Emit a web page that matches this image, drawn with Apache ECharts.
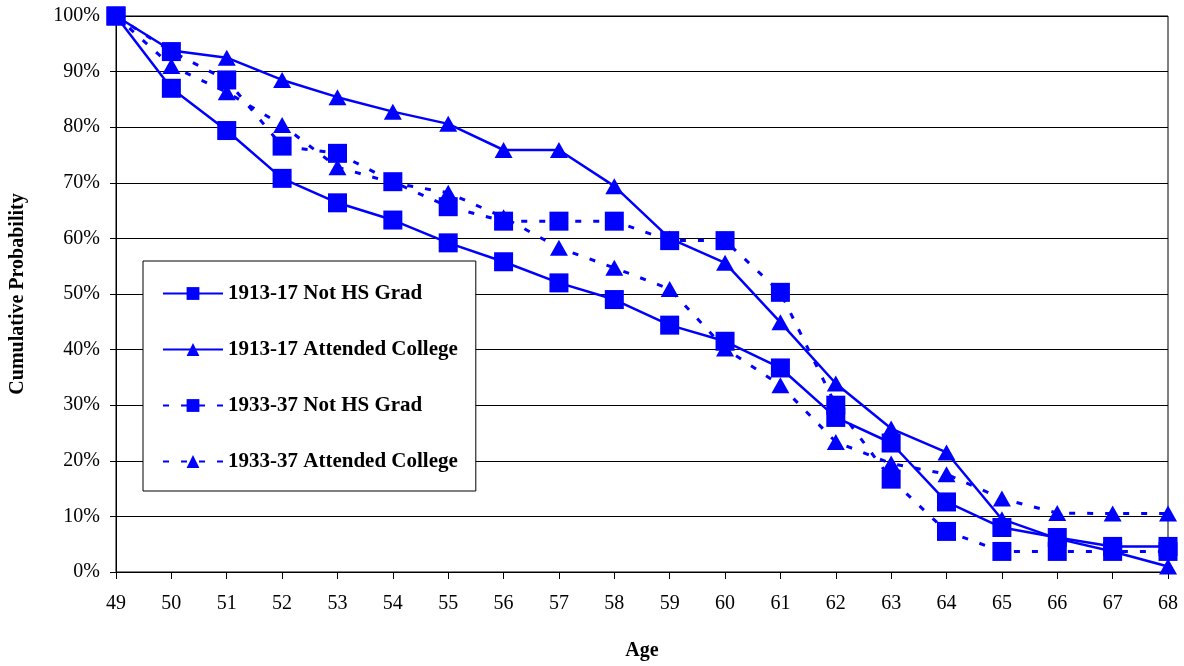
<!DOCTYPE html>
<html>
<head>
<meta charset="utf-8">
<title>Cumulative Probability by Age</title>
<script src="https://cdn.jsdelivr.net/npm/echarts@6/dist/echarts.min.js"></script>
<style>
  html, body { margin: 0; padding: 0; background: #fff; }
  #main { width: 1184px; height: 666px; }
</style>
</head>
<body>
<div id="main"></div>
<script>
// ages on the x axis
var ages = ['49', '50', '51', '52', '53', '54', '55', '56', '57', '58',
            '59', '60', '61', '62', '63', '64', '65', '66', '67', '68'];

// cumulative probability, in percent
var notHS1913 = [100, 87.0, 79.4, 70.8, 66.4, 63.3, 59.2, 55.8, 52.0, 49.0,
                 44.4, 41.5, 36.7, 27.8, 23.2, 12.6, 8.0, 6.2, 4.6, 4.6];
var college1913 = [100, 93.8, 92.5, 88.5, 85.4, 82.8, 80.6, 75.9, 75.9, 69.4,
                   60.0, 55.6, 44.9, 33.9, 25.8, 21.5, 9.5, 6.0, 3.7, 1.0];
var notHS1933 = [100, 93.6, 88.5, 76.6, 75.3, 70.2, 65.7, 63.1, 63.1, 63.1,
                 59.6, 59.6, 50.3, 30.0, 16.7, 7.3, 3.7, 3.7, 3.7, 3.7];
var college1933 = [100, 91.0, 86.3, 80.4, 72.8, 70.0, 68.2, 63.8, 58.3, 54.7,
                   50.9, 40.2, 33.6, 23.4, 19.5, 17.6, 13.2, 10.6, 10.5, 10.5];

var seriesNames = ['1913-17 Not HS Grad', '1913-17 Attended College',
                   '1933-37 Not HS Grad', '1933-37 Attended College'];

var serif = 'Liberation Serif, Times New Roman, serif';
var blue = '#0000ff';

// one line series
function makeSeries(name, data, symbol, dashed) {
  return {
    name: name,
    type: 'line',
    data: data,
    symbol: symbol,
    symbolSize: symbol == 'rect' ? 19 : [18, 16],
    showAllSymbol: true,
    itemStyle: { color: blue },
    lineStyle: {
      color: blue,
      width: dashed ? 3 : 2.5,
      type: dashed ? [6, 12] : 'solid'
    },
    emphasis: { disabled: true },
    animation: false
  };
}

var chart = echarts.init(document.getElementById('main'));

var option = {
  backgroundColor: '#ffffff',
  grid: {
    left: 116,
    right: 16,
    top: 16,
    bottom: 94,
    show: true,
    borderColor: '#000',
    borderWidth: 1
  },
  legend: {
    orient: 'vertical',
    left: 143,
    top: 261,
    padding: [22, 18, 19, 19],
    itemWidth: 60,
    itemHeight: 16,
    itemGap: 35,
    backgroundColor: '#fff',
    borderColor: '#000',
    borderWidth: 1,
    textStyle: {
      fontFamily: serif,
      fontWeight: 'bold',
      fontSize: 21,
      lineHeight: 21,
      color: '#000'
    },
    data: seriesNames
  },
  xAxis: {
    type: 'category',
    data: ages,
    boundaryGap: false,
    name: 'Age',
    nameLocation: 'middle',
    nameGap: 69,
    nameTextStyle: {
      fontFamily: serif,
      fontWeight: 'bold',
      fontSize: 20,
      color: '#000'
    },
    axisLine: { lineStyle: { color: '#000', width: 1 } },
    axisTick: { length: 7, lineStyle: { color: '#000' } },
    axisLabel: {
      margin: 22,
      fontFamily: serif,
      fontSize: 20,
      color: '#000'
    },
    splitLine: { show: false }
  },
  yAxis: {
    type: 'value',
    min: 0,
    max: 100,
    interval: 10,
    name: 'Cumulative Probability',
    nameLocation: 'middle',
    nameGap: 88,
    nameTextStyle: {
      fontFamily: serif,
      fontWeight: 'bold',
      fontSize: 20,
      color: '#000'
    },
    axisLine: { show: true, lineStyle: { color: '#000', width: 1 } },
    axisTick: { show: true, length: 6, lineStyle: { color: '#000' } },
    axisLabel: {
      margin: 16,
      formatter: '{value}%',
      fontFamily: serif,
      fontSize: 20,
      color: '#000'
    },
    splitLine: { lineStyle: { color: '#000', width: 1 } }
  },
  series: [
    makeSeries(seriesNames[0], notHS1913, 'rect', false),
    makeSeries(seriesNames[1], college1913, 'triangle', false),
    makeSeries(seriesNames[2], notHS1933, 'rect', true),
    makeSeries(seriesNames[3], college1933, 'triangle', true)
  ]
};

chart.setOption(option);
</script>
</body>
</html>
